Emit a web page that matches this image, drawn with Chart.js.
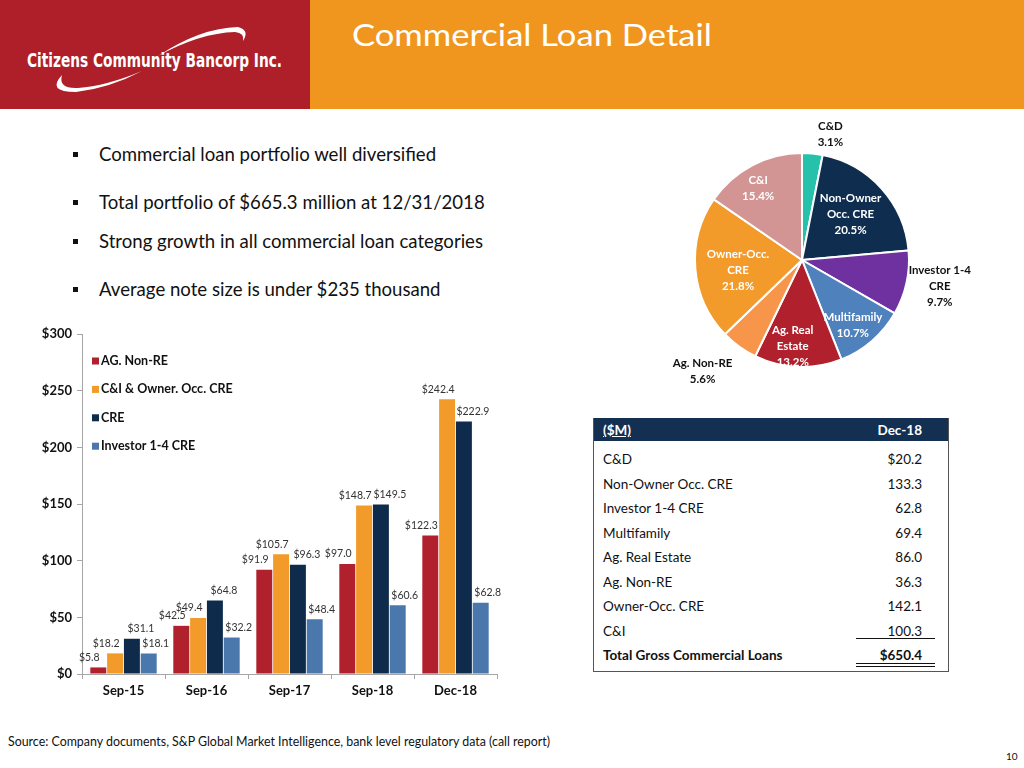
<!DOCTYPE html>
<html>
<head>
<meta charset="utf-8">
<script src="https://cdn.jsdelivr.net/npm/chart.js@4.4.0/dist/chart.umd.min.js"></script>
<style>
body { margin:0; width:1024px; height:768px; overflow:hidden; background:#fff; font-family:'Lato', sans-serif; position:relative; }
#hdrRed { position:absolute; left:0; top:0; width:310px; height:109px; background:#AE1F29; }
#hdrOrange { position:absolute; left:310px; top:0; width:714px; height:109px; background:#F0961F; }
#logo { position:absolute; left:0; top:0; }
.bul { position:absolute; left:73px; font-size:18.6px; color:#111; }
.bul span.sq { display:inline-block; width:5px; height:5px; background:#111; vertical-align:middle; margin-right:21px; position:relative; top:-2px; }
#barWrap { position:absolute; left:0; top:320px; }
#pieWrap { position:absolute; left:620px; top:115px; }
#tbl { position:absolute; left:593px; top:418px; width:354px; height:253px; border:1px solid #555; border-top:none; }
#tblHead { position:absolute; left:0; top:0; width:354px; height:23px; background:#132F52; color:#fff; font-weight:bold; font-size:13.5px; }
.cell { position:absolute; font-size:13.5px; color:#111; line-height:16px; }
#src { position:absolute; left:8px; top:734px; font-size:12.4px; color:#111; }
#pg { position:absolute; left:1006px; top:750px; font-size:10px; color:#111; }
</style>
</head>
<body>
<div id="hdrRed"></div>
<div id="hdrOrange"></div>
<svg id="logo" width="1024" height="110">
  <path d="M158,56 Q200,28 238,27 Q250,30 243,41 Q245,33 235,32 Q200,33 158,56 Z" fill="#fff"/>
  <path d="M62,75 Q46,92 76,92 Q110,88 142,71 Q106,86 78,88 Q58,89 62,75 Z" fill="#fff"/>
  <text x="27" y="67" fill="#fff" font-family="Liberation Sans Narrow, DejaVu Sans Condensed, sans-serif" font-weight="bold" font-size="19" textLength="255" lengthAdjust="spacingAndGlyphs">Citizens Community Bancorp Inc.</text>
  <text x="352" y="46" fill="#fff" font-family="Lato, sans-serif" font-weight="normal" font-size="31" textLength="360" lengthAdjust="spacingAndGlyphs">Commercial Loan Detail</text>
</svg>

<div class="bul" style="top:143px"><span class="sq"></span>Commercial loan portfolio well diversified</div>
<div class="bul" style="top:191px"><span class="sq"></span>Total portfolio of $665.3 million at 12/31/2018</div>
<div class="bul" style="top:230px"><span class="sq"></span>Strong growth in all commercial loan categories</div>
<div class="bul" style="top:278px"><span class="sq"></span>Average note size is under $235 thousand</div>

<div id="barWrap"><canvas id="bars" width="540" height="390"></canvas></div>
<div id="pieWrap"><canvas id="pie" width="380" height="290"></canvas></div>

<div id="tbl"><div id="tblHead"></div></div>

<div id="src">Source: Company documents, S&amp;P Global Market Intelligence, bank level regulatory data (call report)</div>
<div id="pg">10</div>

<script>
// bar chart data ($M)
var categories = ['Sep-15', 'Sep-16', 'Sep-17', 'Sep-18', 'Dec-18'];
var seriesNames = ['AG. Non-RE', 'C&I & Owner. Occ. CRE', 'CRE', 'Investor 1-4 CRE'];
var agNonRE = [5.8, 42.5, 91.9, 97.0, 122.3];
var ciOwnerOcc = [18.2, 49.4, 105.7, 148.7, 242.4];
var cre = [31.1, 64.8, 96.3, 149.5, 222.9];
var investor14 = [18.1, 32.2, 48.4, 60.6, 62.8];
var yTicks = [0, 50, 100, 150, 200, 250, 300];

// pie data (% of commercial loans)
var pieLabels = [['C&D'], ['Non-Owner', 'Occ. CRE'], ['Investor 1-4', 'CRE'], ['Multifamily'], ['Ag. Real', 'Estate'], ['Ag. Non-RE'], ['Owner-Occ.', 'CRE'], ['C&I']];
var piePct = [3.1, 20.5, 9.7, 10.7, 13.2, 5.6, 21.8, 15.4];

// table data
var tblLabels = ['C&D', 'Non-Owner Occ. CRE', 'Investor 1-4 CRE', 'Multifamily', 'Ag. Real Estate', 'Ag. Non-RE', 'Owner-Occ. CRE', 'C&I'];
var tblValues = ['$20.2', '133.3', '62.8', '69.4', '86.0', '36.3', '142.1', '100.3'];
var tblTotal = '$650.4';

var barColors = ['#B0202D', '#F29A2A', '#0F2B4C', '#4A78AD'];
var labelDx = [-9, -9, 9, 7];
var pieColors = ['#25C1AA', '#0F2D4F', '#7031A0', '#4F81BD', '#B0202D', '#F7964B', '#F29A2A', '#D39494'];
var pieTextColor = ['#111', '#fff', '#111', '#fff', '#fff', '#111', '#fff', '#fff'];
var pieLabelR = [1.19, 0.61, 1.29, 0.77, 0.81, 1.39, 0.6, 0.78];
var pieShift = [[16, 1], [0, -2], [3, -3], [-3, 3], [-6, 0], [-12, -9], [0, 5], [-5, 2]];

Chart.defaults.font.family = 'Lato';

var valueLabels = {
    id: 'valueLabels',
    afterDatasetsDraw: function (chart) {
        var ctx = chart.ctx;
        ctx.save();
        ctx.font = '10.5px Lato';
        ctx.fillStyle = '#333';
        ctx.textAlign = 'center';
        ctx.textBaseline = 'middle';
        chart.data.datasets.forEach(function (ds, i) {
            chart.getDatasetMeta(i).data.forEach(function (bar, j) {
                ctx.fillText('$' + ds.data[j].toFixed(1), bar.x + labelDx[i], bar.y - 10);
            });
        });
        ctx.restore();
    }
};

var boxLegend = {
    id: 'boxLegend',
    afterDraw: function (chart) {
        var ctx = chart.ctx;
        var x = chart.chartArea.left + 10;
        ctx.save();
        ctx.font = 'bold 12.5px Lato';
        ctx.textBaseline = 'middle';
        chart.data.datasets.forEach(function (ds, i) {
            var y = 41 + i * 28.4;
            ctx.fillStyle = ds.backgroundColor;
            ctx.fillRect(x, y - 3.5, 7, 7);
            ctx.fillStyle = '#111';
            ctx.fillText(ds.label, x + 9, y);
        });
        ctx.restore();
    }
};

var seriesData = [agNonRE, ciOwnerOcc, cre, investor14];
new Chart(document.getElementById('bars'), {
    type: 'bar',
    data: {
        labels: categories,
        datasets: seriesData.map(function (d, i) {
            return { label: seriesNames[i], data: d, backgroundColor: barColors[i], categoryPercentage: 0.81, barPercentage: 0.95 };
        })
    },
    options: {
        responsive: false,
        animation: false,
        layout: { padding: { top: 14, right: 43, left: 0, bottom: 0 } },
        plugins: { legend: { display: false }, tooltip: { enabled: false } },
        scales: {
            x: {
                grid: { drawOnChartArea: false, tickLength: 5, color: '#A6A6A6' },
                border: { color: '#A6A6A6' },
                ticks: { color: '#111', font: { weight: 'bold', size: 13 }, padding: 4 },
                afterFit: function (s) { s.height = 36; }
            },
            y: {
                min: 0, max: 300,
                afterBuildTicks: function (s) { s.ticks = yTicks.map(function (v) { return { value: v }; }); },
                grid: { drawOnChartArea: false, tickLength: 5, color: '#A6A6A6' },
                border: { color: '#A6A6A6' },
                ticks: { color: '#111', font: { weight: 'bold', size: 13 }, padding: 5, callback: function (v) { return '$' + v; } },
                afterFit: function (s) { s.width = 82; }
            }
        }
    },
    plugins: [valueLabels, boxLegend]
});

var pieText = {
    id: 'pieText',
    afterDatasetsDraw: function (chart) {
        var ctx = chart.ctx;
        ctx.save();
        ctx.font = 'bold 11.5px Lato';
        ctx.textAlign = 'center';
        ctx.textBaseline = 'middle';
        chart.getDatasetMeta(0).data.forEach(function (arc, i) {
            var p = arc.getProps(['x', 'y', 'startAngle', 'endAngle', 'outerRadius'], true);
            var a = (p.startAngle + p.endAngle) / 2;
            var r = p.outerRadius * pieLabelR[i];
            var cx = p.x + Math.cos(a) * r + pieShift[i][0];
            var cy = p.y + Math.sin(a) * r + pieShift[i][1];
            var lines = pieLabels[i].concat([piePct[i].toFixed(1) + '%']);
            ctx.fillStyle = pieTextColor[i];
            lines.forEach(function (t, k) {
                ctx.fillText(t, cx, cy + (k - (lines.length - 1) / 2) * 16);
            });
        });
        ctx.restore();
    }
};

new Chart(document.getElementById('pie'), {
    type: 'pie',
    data: {
        labels: pieLabels.map(function (l) { return l.join(' '); }),
        datasets: [{ data: piePct, backgroundColor: pieColors, borderColor: '#fff', borderWidth: 2 }]
    },
    options: {
        responsive: false,
        animation: false,
        layout: { padding: { left: 74, right: 90, top: 37, bottom: 37 } },
        plugins: { legend: { display: false }, tooltip: { enabled: false } }
    },
    plugins: [pieText]
});

// table
var tbl = document.getElementById('tbl');
var head = document.getElementById('tblHead');
head.innerHTML = '<span style="position:absolute;left:9px;top:4px;text-decoration:underline">($M)</span>' +
    '<span style="position:absolute;right:26px;top:4px">Dec-18</span>';
function addRow(label, value, y, bold) {
    var l = document.createElement('div');
    l.className = 'cell';
    l.style.left = '9px';
    l.style.top = (y - 8) + 'px';
    l.textContent = label;
    var v = document.createElement('div');
    v.className = 'cell';
    v.style.right = '26px';
    v.style.top = (y - 8) + 'px';
    v.textContent = value;
    if (bold) { l.style.fontWeight = 'bold'; v.style.fontWeight = 'bold'; }
    tbl.appendChild(l);
    tbl.appendChild(v);
}
for (var i = 0; i < tblLabels.length; i++) {
    addRow(tblLabels[i], tblValues[i], 41 + i * 24.5, false);
}
addRow('Total Gross Commercial Loans', tblTotal, 41 + 8 * 24.5, true);
var rules = [[220, 1], [245, 1], [248, 1]];
rules.forEach(function (r) {
    var d = document.createElement('div');
    d.style.cssText = 'position:absolute;left:262px;width:79px;height:' + r[1] + 'px;background:#111;top:' + r[0] + 'px';
    tbl.appendChild(d);
});
</script>
</body>
</html>
